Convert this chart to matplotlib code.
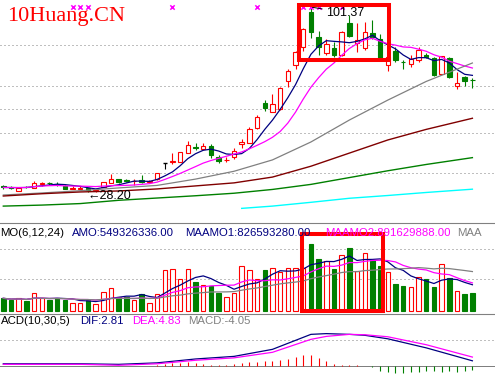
import numpy as np
import pandas as pd
import matplotlib
matplotlib.use("Agg")
import matplotlib.pyplot as plt
from matplotlib.patches import Rectangle
import matplotlib.transforms as mtransforms

plt.rcParams['font.family'] = ['Liberation Sans', 'DejaVu Sans']

# daily candles (price)
opens = [30.7, 30.0, 28.5, 30.3, 29.7, 31.5, 31.7, 31.5, 30.6, 29.3,
         29.3, 29.6, 28.4, 30.1, 31.6, 33.3, 32.8, 32.4, 32.9, 32.0,
         33.3, 39.6, 40.1, 40.2, 43.5, 46.1, 45.3, 46.4, 42.2, 40.8,
         42.2, 47.1, 47.7, 53.7, 63.6, 60.0, 61.0, 72.2, 78.5, 85.8,
         99.6, 89.7, 83.1, 85.1, 82.5, 95.0, 87.1, 85.1, 91.3, 88.7,
         78.5, 84.2, 79.8, 78.9, 80.5, 82.5, 81.2, 74.9, 81.2, 70.2,
         73.6, 72.6]
highs = [31.1, 30.6, 29.9, 30.6, 32.5, 32.3, 32.0, 32.1, 30.8, 30.7,
         30.7, 29.8, 29.1, 32.3, 35.2, 33.5, 33.5, 33.3, 34.9, 32.9,
         35.9, 39.6, 43.6, 44.2, 48.5, 47.7, 47.5, 47.2, 42.9, 42.2,
         45.5, 49.1, 53.9, 58.5, 64.6, 67.0, 69.8, 76.8, 84.2, 93.0,
         101.37, 92.1, 88.7, 87.7, 92.0, 98.3, 95.3, 95.7, 96.3, 90.8,
         84.5, 85.8, 80.5, 82.5, 85.8, 83.3, 81.7, 82.1, 81.5, 75.9,
         74.1, 73.2]
lows = [29.4, 29.3, 28.5, 29.8, 29.7, 30.6, 31.0, 30.6, 29.2, 29.3,
        29.2, 28.2, 28.3, 30.0, 31.6, 31.9, 32.0, 31.0, 31.9, 31.9,
        33.1, 37.2, 39.3, 40.2, 43.5, 44.8, 44.8, 41.5, 39.6, 40.2,
        41.2, 45.5, 47.6, 53.2, 60.4, 59.9, 60.8, 69.9, 77.0, 84.0,
        89.1, 82.5, 82.5, 81.8, 82.0, 89.5, 83.8, 84.5, 89.0, 80.0,
        76.3, 79.8, 76.8, 77.8, 79.8, 81.3, 74.3, 74.9, 73.5, 68.9,
        70.2, 69.3]
closes = [30.0, 29.9, 29.9, 30.1, 31.6, 31.7, 31.6, 31.4, 29.3, 29.9,
          29.9, 29.0, 28.9, 32.0, 33.3, 32.0, 32.6, 32.6, 32.0, 32.7,
          35.9, 39.6, 40.6, 44.2, 46.8, 45.6, 46.4, 42.8, 40.5, 41.0,
          44.6, 48.1, 53.0, 58.0, 61.3, 62.9, 69.3, 76.3, 83.8, 92.6,
          91.7, 85.8, 86.8, 82.5, 91.5, 90.1, 88.4, 91.7, 89.7, 80.8,
          81.8, 80.5, 79.6, 80.9, 84.4, 81.6, 74.6, 82.1, 73.9, 71.3,
          72.2, 72.5]

# turnover amount, 1e8 yuan
amount = [3.94, 3.42, 3.94, 3.11, 5.49, 3.94, 3.42, 3.94, 3.42, 2.38,
          2.38, 3.42, 2.07, 6.01, 7.26, 4.46, 4.46, 3.42, 5.18, 2.38,
          5.18, 12.75, 12.96, 9.85, 12.96, 8.91, 8.08, 7.77, 5.70, 4.46,
          5.70, 14.10, 12.75, 9.85, 12.75, 13.47, 12.23, 13.27, 13.27, 13.27,
          20.83, 16.17, 15.65, 13.06, 17.41, 19.49, 12.54, 17.93, 15.86, 13.99,
          12.02, 8.29, 7.77, 7.57, 10.47, 9.85, 7.36, 14.51, 10.16, 6.32,
          5.18, 5.49]

# long moving averages read at a few candles
ma_idx = [0, 5, 10, 15, 20, 25, 30, 35, 40, 45, 50, 55, 61]
ma_gray = [27.0, 27.8, 28.7, 29.8, 30.8, 33.3, 36.4, 40.9, 48.0, 56.7, 64.6, 72.0, 79.3]
ma_darkred = [26.6, 27.5, 28.2, 28.6, 29.4, 30.6, 31.8, 34.1, 38.4, 43.6, 48.8, 53.0, 57.4]
ma_green = [22.6, 23.0, 23.6, 24.9, 25.8, 26.7, 27.7, 29.2, 31.2, 33.9, 36.6, 39.1, 41.8]
cyan_idx = [31, 35, 40, 45, 50, 55, 61]
ma_cyan = [21.7, 22.6, 24.1, 25.7, 26.8, 28.0, 29.3]

# MACD(10,30,5)
macd_idx = [0, 5, 10, 15, 20, 25, 30, 35, 40, 42, 45, 47, 50, 55, 61]
dif = [1.2, 1.2, 1.2, 0.9, 1.7, 3.8, 5.2, 9.0, 17.1, 17.5, 17.1, 16.6, 14.7, 9.8, 2.81]
dea = [0.9, 0.9, 0.9, 0.4, 1.2, 3.1, 4.4, 7.4, 14.4, 16.0, 17.1, 16.9, 15.8, 11.5, 4.83]
macd_bar = [0.0] * 20 + [
    0.5, 1.0, 1.5, 1.8, 2.2, 1.6, 1.0, 0.8, 0.5, 0.8, 1.2, 1.8, 2.2,
    2.0, 2.5, 2.9, 3.4, 3.8, 4.7, 6.1, 6.1, 4.3, 2.9, 1.1, 0.5, 0.5,
    0.3, -0.2,
    -0.7, -2.5, -3.1, -4.0, -4.0, -3.4, -3.1, -2.5, -2.9, -3.1, -2.5, -3.4, -2.9, -2.2]

signal_idx = [9, 10, 11, 22, 33, 39, 40, 41, 44]
price_grid = [86.4, 70.2, 61.1, 51.6, 35.7]
vol_grid = [19.3, 10.0]
macd_grid = [14.0]

RED = '#ff0000'
GREEN = '#008000'
NAVY = '#000080'
MAG = '#ff00ff'
GRAY = '#808080'

W, H = 495, 374
fig = plt.figure(figsize=(W / 100, H / 100), dpi=100)
fig.patch.set_facecolor('white')

ax1 = fig.add_axes([0, 1 - 222 / H, 1, 222 / H])
ax2 = fig.add_axes([0, 1 - 313 / H, 1, 89 / H])
ax3 = fig.add_axes([0, 0, 1, 60 / H])
for ax in (ax1, ax2, ax3):
    ax.set_axis_off()
    ax.set_xlim(-0.43, 63.94)
ax1.set_ylim(16.3, 104.26)
ax2.set_ylim(-0.62, 27.06)
ax3.set_ylim(-4.32, 28.1)

dot = dict(color=GRAY, lw=0.72, linestyle=(0, (1, 3)))
for g in price_grid:
    ax1.axhline(g, **dot)
for g in vol_grid:
    ax2.axhline(g, **dot)
for g in macd_grid:
    ax3.axhline(g, **dot)

x = np.arange(len(closes))
bw = 0.58
c = pd.Series(closes)

# candles
for i in x:
    o, h, l, cl = opens[i], highs[i], lows[i], closes[i]
    if cl > o:
        ax1.vlines(i, l, h, color=RED, lw=0.8, zorder=2)
        ax1.add_patch(Rectangle((i - bw / 2, o), bw, cl - o, facecolor='white',
                                edgecolor=RED, lw=0.8, zorder=3))
    elif cl < o:
        ax1.vlines(i, l, h, color=GREEN, lw=0.8, zorder=2)
        ax1.add_patch(Rectangle((i - bw / 2, cl), bw, o - cl, facecolor=GREEN,
                                edgecolor=GREEN, lw=0.8, zorder=3))
    else:
        ax1.vlines(i, l, h, color='black', lw=0.8, zorder=2)
        ax1.hlines(cl, i - bw / 2, i + bw / 2, color='black', lw=1.0, zorder=3)

ax1.plot(x, c.rolling(5, min_periods=1).mean(), color=NAVY, lw=0.9, zorder=4)
ax1.plot(x, c.rolling(10, min_periods=1).mean(), color=MAG, lw=0.9, zorder=4)
ax1.plot(ma_idx, ma_gray, color=GRAY, lw=0.9, zorder=4)
ax1.plot(ma_idx, ma_darkred, color='#800000', lw=1.0, zorder=4)
ax1.plot(ma_idx, ma_green, color=GREEN, lw=1.0, zorder=4)
ax1.plot(cyan_idx, ma_cyan, color='#00ffff', lw=1.0, zorder=4)

# signal marks on top
trans = mtransforms.blended_transform_factory(ax1.transData, ax1.transAxes)
ax1.scatter(signal_idx, [0.97] * len(signal_idx), marker='x', s=10, color=MAG,
            lw=1.1, transform=trans, zorder=5, clip_on=False)

# high / low labels
hi = int(np.argmax(highs))
lo = int(np.argmin(lows))
ax1.annotate('101.37', xy=(hi + 0.2, highs[hi]), xytext=(hi + 2.0, 99.2),
             fontsize=9, va='center', ha='left',
             arrowprops=dict(arrowstyle='-', lw=0.7, color='black',
                             shrinkA=1, shrinkB=0), zorder=6)
ax1.text(lo - 0.1, 26.6, '\u219028.20', fontsize=9, va='center', ha='left', zorder=6)

# highlight box
ax1.add_patch(Rectangle((38.4, 80.5), 50.13 - 38.4, 102.16 - 80.5, fill=False,
                        edgecolor=RED, lw=2.9, zorder=7, clip_on=False))

# volume panel
up = [cl >= o for o, cl in zip(opens, closes)]
ax2.bar(x, amount, width=bw, bottom=0,
        color=['white' if u else GREEN for u in up],
        edgecolor=[RED if u else GREEN for u in up], lw=0.8, zorder=2)
a = pd.Series(amount)
ax2.plot(x, a.rolling(6, min_periods=1).mean(), color=NAVY, lw=0.9, zorder=3)
ax2.plot(x, a.rolling(12, min_periods=1).mean(), color=MAG, lw=0.9, zorder=3)
ax2.plot(x, a.rolling(24, min_periods=1).mean(), color=GRAY, lw=0.9, zorder=3)
ax2.add_patch(Rectangle((38.9, 0), 49.4 - 38.9, 24.0, fill=False,
                        edgecolor=RED, lw=2.9, zorder=7, clip_on=False))

# MACD panel
ax3.vlines(x, 0, macd_bar, colors=[RED if m >= 0 else GREEN for m in macd_bar],
           lw=0.8, zorder=2)
ax3.axhline(0, color='black', lw=0.72, linestyle=(0, (1, 1)), zorder=1)
ax3.plot(macd_idx, dif, color=NAVY, lw=0.9, zorder=3)
ax3.plot(macd_idx, dea, color=MAG, lw=0.9, zorder=3)

# panel separators
for yy in (223.5, 313.5):
    fig.add_artist(plt.Line2D([0, 1], [1 - yy / H] * 2, color=GRAY, lw=0.8))

fig.text(7 / W, 1 - 21.5 / H, '10Huang.CN', color=RED, fontsize=16,
         family='Liberation Serif', va='baseline')

fs = 8.2
vol_labels = [(0, 'MO(6,12,24)', 'black'), (72, 'AMO:549326336.00', NAVY),
              (185, 'MAAMO1:826593280.00', NAVY), (325, 'MAAMO2:891629888.00', MAG),
              (457, 'MAA', GRAY)]
for px, t, col in vol_labels:
    fig.text(px / W, 1 - 233 / H, t, color=col, fontsize=fs, va='center', zorder=1)
macd_labels = [(1, 'ACD(10,30,5)', 'black'), (80, 'DIF:2.81', NAVY),
               (132, 'DEA:4.83', MAG), (188, 'MACD:-4.05', GRAY)]
for px, t, col in macd_labels:
    fig.text(px / W, 1 - 321 / H, t, color=col, fontsize=fs, va='center')

fig.savefig('out.png', dpi=100)
